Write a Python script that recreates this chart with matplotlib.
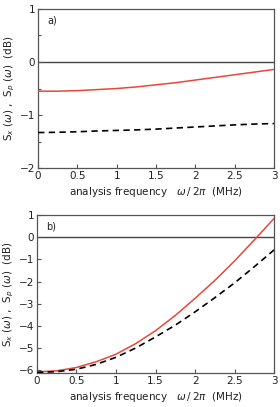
import numpy as np
from matplotlib import pyplot as plt
from matplotlib.ticker import MultipleLocator

# analysis frequency (MHz)
freq = [0, 0.25, 0.5, 0.75, 1, 1.25, 1.5, 1.75, 2, 2.25, 2.5, 2.75, 3]

# panel a)
a_solid = [-0.55, -0.55, -0.54, -0.52, -0.50, -0.47, -0.43, -0.39, -0.34, -0.29, -0.24, -0.19, -0.14]
a_dashed = [-1.33, -1.325, -1.315, -1.30, -1.29, -1.28, -1.265, -1.245, -1.225, -1.205, -1.185, -1.17, -1.16]

# panel b)
b_solid = [-6.08, -6.03, -5.88, -5.62, -5.28, -4.80, -4.22, -3.53, -2.76, -1.95, -1.07, -0.12, 0.85]
b_dashed = [-6.10, -6.07, -5.96, -5.74, -5.42, -5.00, -4.50, -3.97, -3.37, -2.73, -2.06, -1.33, -0.57]

xticks = [0, 0.5, 1, 1.5, 2, 2.5, 3]
xticklabels = ['0', '0.5', '1', '1.5', '2', '2.5', '3']

fig = plt.figure(figsize=(2.8, 4.07), dpi=100)
ax1 = fig.add_axes([0.136, 0.587, 0.843, 0.391])
ax2 = fig.add_axes([0.132, 0.0835, 0.847, 0.388])

red = '#e8473a'
spine_col = '#555555'
fs = 7.5

panels = [
    (ax1, a_solid, a_dashed, (-2, 1), 'a)', True),
    (ax2, b_solid, b_dashed, (-6.13, 1), 'b)', False),
]

for ax, solid, dashed, ylim, tag, minor in panels:
    ax.axhline(0, color='#444444', lw=1.0, zorder=1)
    ax.plot(freq, solid, color=red, lw=1.1, zorder=3)
    ax.plot(freq, dashed, color='black', lw=1.2, ls=(0, (3.8, 2.6)), zorder=3)
    ax.set_xlim(0, 3)
    ax.set_ylim(*ylim)
    ax.set_xticks(xticks)
    ax.set_xticklabels(xticklabels)
    ax.yaxis.set_major_locator(MultipleLocator(1))
    if minor:
        ax.yaxis.set_minor_locator(MultipleLocator(0.5))
    ax.tick_params(which='both', direction='in', labelsize=fs, colors=spine_col,
                   labelcolor='#222222', width=0.8, pad=2)
    ax.tick_params(which='major', length=3)
    ax.tick_params(which='minor', length=2)
    for s in ax.spines.values():
        s.set_color(spine_col)
        s.set_linewidth(0.9)
    ax.text(0.04, 0.96, tag, transform=ax.transAxes, fontsize=fs - 0.5,
            va='top', ha='left', color='#222222')
    ax.set_xlabel(r'analysis frequency   $\omega\,/\,2\pi$  (MHz)', fontsize=fs,
                  color='#222222', labelpad=3)
    ax.set_ylabel(r'S$_x$ $(\omega)$ ,  S$_p$ $(\omega)$  (dB)', fontsize=fs,
                  color='#222222', labelpad=2)

fig.savefig('out.png', dpi=100)
